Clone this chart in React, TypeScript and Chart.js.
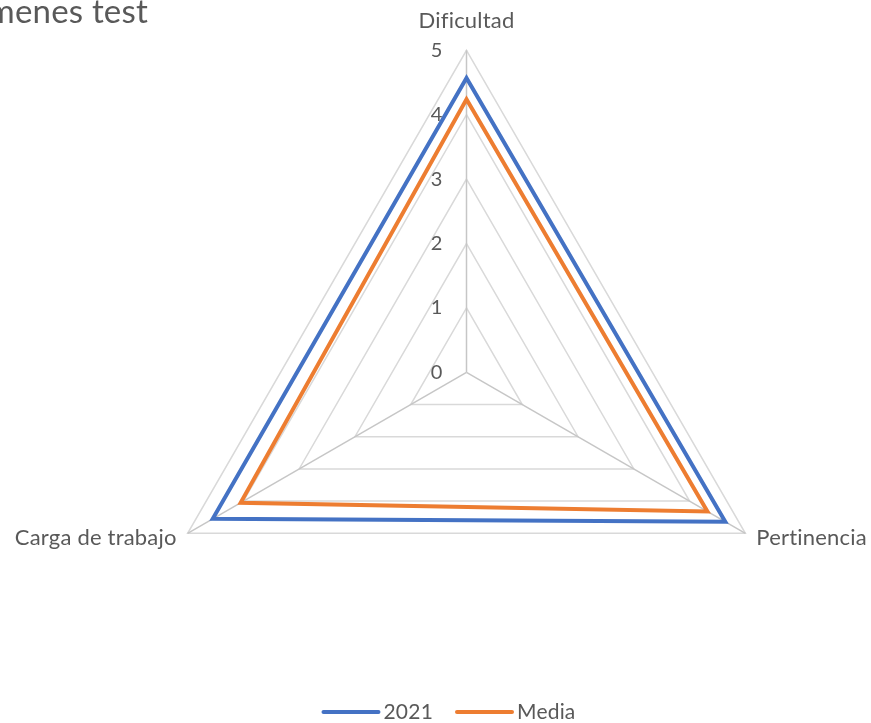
import { useEffect, useRef } from 'react';
import { Chart, registerables } from 'chart.js';

Chart.register(...registerables);

const TITLE = 'Exámenes test';
const CATEGORIES = ['Dificultad', 'Pertinencia', 'Carga de trabajo'];
const SERIES_NAMES = ['2021', 'Media'];
const VALUES_2021 = [4.57, 4.64, 4.55];
const VALUES_MEDIA = [4.24, 4.32, 4.05];
const TICK_LABELS = ['0', '1', '2', '3', '4', '5'];
const COLORS = ['#4472C4', '#ED7D31'];

const FONT = 'Lato, "Open Sans", sans-serif';
const TEXT = '#595959';

export default function App() {
  const ref = useRef<HTMLCanvasElement>(null);

  useEffect(() => {
    if (!ref.current) return;

    const textPlugin = {
      id: 'textPlugin',
      afterDraw(chart: any) {
        const ctx = chart.ctx as any;
        const scale = chart.scales.r;
        const cx = scale.xCenter;
        const cy = scale.yCenter;
        ctx.save();
        ctx.fillStyle = TEXT;
        ctx.letterSpacing = '0.2px';

        // title (partly clipped on the left)
        ctx.font = `33px ${FONT}`;
        ctx.textAlign = 'right';
        ctx.textBaseline = 'alphabetic';
        ctx.fillText(TITLE, 148, 23);

        // tick labels
        ctx.font = `20px ${FONT}`;
        ctx.textAlign = 'right';
        ctx.textBaseline = 'middle';
        TICK_LABELS.forEach((t) => {
          const d = scale.getDistanceFromCenterForValue(Number(t));
          ctx.fillText(t, cx - 24, cy - d);
        });

        // point labels
        ctx.font = `22px ${FONT}`;
        const p0 = scale.getPointPosition(0, scale.drawingArea);
        const p1 = scale.getPointPosition(1, scale.drawingArea);
        const p2 = scale.getPointPosition(2, scale.drawingArea);
        ctx.textAlign = 'center';
        ctx.fillText(CATEGORIES[0], p0.x, p0.y - 29);
        ctx.textAlign = 'left';
        ctx.fillText(CATEGORIES[1], p1.x + 11, p1.y + 5);
        ctx.textAlign = 'right';
        ctx.fillText(CATEGORIES[2], p2.x - 11, p2.y + 5);

        // legend
        ctx.font = `21px ${FONT}`;
        ctx.textAlign = 'left';
        const lineLen = 55;
        const gapText = 5;
        const gapItems = 24;
        const widths = SERIES_NAMES.map((n) => ctx.measureText(n).width);
        const total =
          widths.reduce((a: number, w: number) => a + lineLen + gapText + w, 0) +
          gapItems * (SERIES_NAMES.length - 1);
        let x = 449.5 - total / 2;
        const ly = 712;
        SERIES_NAMES.forEach((n, i) => {
          ctx.strokeStyle = COLORS[i];
          ctx.lineWidth = 4;
          ctx.lineCap = 'round';
          ctx.beginPath();
          ctx.moveTo(x, ly);
          ctx.lineTo(x + lineLen, ly);
          ctx.stroke();
          ctx.fillText(n, x + lineLen + gapText, ly);
          x += lineLen + gapText + widths[i] + gapItems;
        });
        ctx.restore();
      },
    };

    const chart = new Chart(ref.current, {
      type: 'radar',
      data: {
        labels: CATEGORIES,
        datasets: [
          {
            label: SERIES_NAMES[0],
            data: VALUES_2021,
            borderColor: COLORS[0],
            backgroundColor: 'transparent',
            borderWidth: 4,
            borderJoinStyle: 'miter',
            pointRadius: 0,
            pointHoverRadius: 0,
            fill: false,
          },
          {
            label: SERIES_NAMES[1],
            data: VALUES_MEDIA,
            borderColor: COLORS[1],
            backgroundColor: 'transparent',
            borderWidth: 4,
            borderJoinStyle: 'miter',
            pointRadius: 0,
            pointHoverRadius: 0,
            fill: false,
          },
        ],
      },
      options: {
        responsive: false,
        animation: false,
        events: [],
        plugins: {
          legend: { display: false },
          title: { display: false },
          tooltip: { enabled: false },
        },
        scales: {
          r: {
            min: 0,
            max: 5,
            ticks: { stepSize: 1, display: false },
            grid: { circular: false, color: '#d9d9d9', lineWidth: 1.5 },
            angleLines: { display: true, color: '#c6c6c6', lineWidth: 1.5 },
            pointLabels: { display: false },
            afterFit: (scale: any) => {
              scale.xCenter = 466.5;
              scale.yCenter = 372.3;
              scale.drawingArea = 322;
            },
          } as any,
        },
      },
      plugins: [textPlugin],
    });

    return () => chart.destroy();
  }, []);

  return (
    <div style={{ position: 'fixed', left: 0, top: 0, width: 871, height: 723, background: '#fff' }}>
      <canvas ref={ref} width={871} height={723} style={{ display: 'block' }} />
    </div>
  );
}
